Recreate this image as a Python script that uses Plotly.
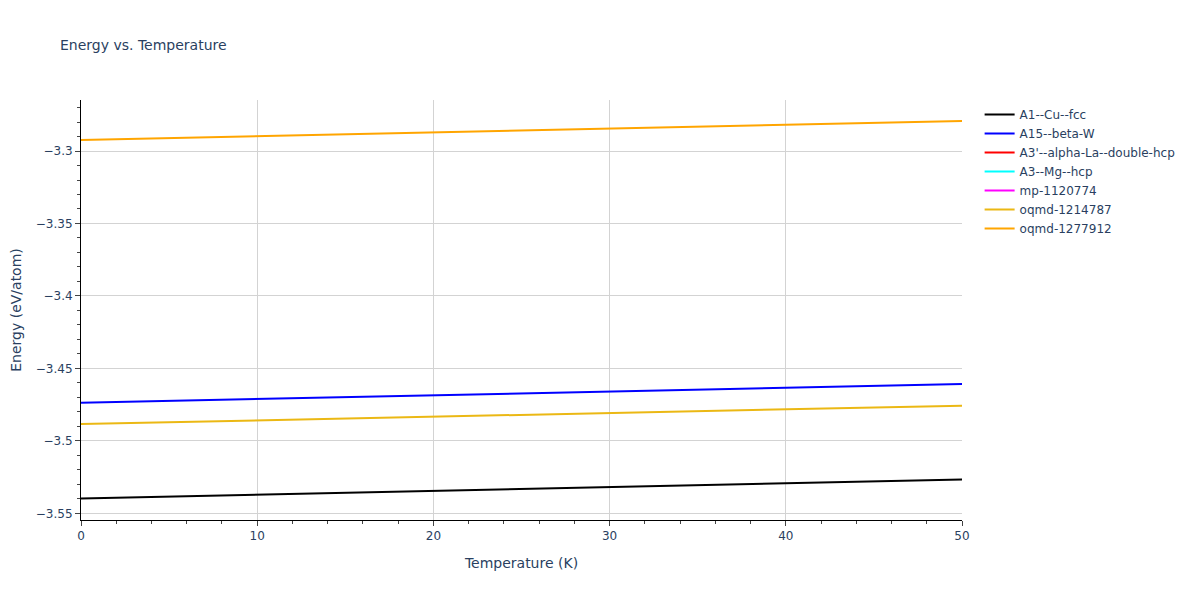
import plotly.graph_objects as go

temperature = [0, 10, 20, 30, 40, 50]

names = ["A1--Cu--fcc", "A15--beta-W", "A3'--alpha-La--double-hcp", "A3--Mg--hcp",
         "mp-1120774", "oqmd-1214787", "oqmd-1277912"]
colors = ["black", "blue", "red", "cyan", "magenta", "#EBB814", "orange"]

e_a1 = [-3.5397, -3.5371, -3.5345, -3.5319, -3.5293, -3.5267]
e_a15 = [-3.4737, -3.4711, -3.4685, -3.4660, -3.4634, -3.4608]
# no visible line for these three in the chart, only legend entries
e_a3p = [None, None, None, None, None, None]
e_a3 = [None, None, None, None, None, None]
e_mp = [None, None, None, None, None, None]
e_oqmd1 = [-3.4884, -3.4859, -3.4833, -3.4808, -3.4782, -3.4757]
e_oqmd2 = [-3.2924, -3.2898, -3.2872, -3.2845, -3.2819, -3.2793]

energies = [e_a1, e_a15, e_a3p, e_a3, e_mp, e_oqmd1, e_oqmd2]

fig = go.Figure()
for name, color, e in zip(names, colors, energies):
    fig.add_trace(go.Scatter(x=temperature, y=e, mode="lines", name=name,
                             line=dict(color=color, width=2)))

axis_style = dict(showline=True, linecolor="black", linewidth=1,
                  gridcolor="lightgray", ticks="outside", zeroline=False,
                  automargin=False)

fig.update_layout(
    title=dict(text="Energy vs. Temperature", font=dict(size=14),
               x=52 / 1200, y=1 - 37 / 600, yanchor="middle"),
    font=dict(family="DejaVu Sans", size=12),
    width=1200, height=600,
    margin=dict(l=73, r=246, t=92, b=88),
    plot_bgcolor="white",
    xaxis=dict(title="Temperature (K)", range=[0, 50], dtick=10,
               minor=dict(ticks="outside", dtick=2), **axis_style),
    yaxis=dict(title=dict(text="Energy (eV/atom)", standoff=20),
               range=[-3.5546, -3.2648], dtick=0.05,
               minor=dict(ticks="outside", dtick=0.01), **axis_style),
)

fig.write_html("out.html")
